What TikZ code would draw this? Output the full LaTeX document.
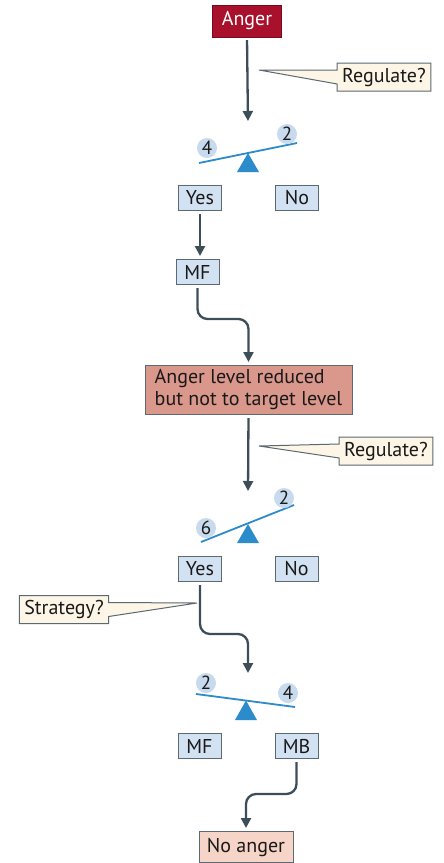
\documentclass[tikz,border=0pt]{standalone}
\usepackage{fontspec}
\setmainfont{PT Sans}
\usepackage{xcolor}
\usepackage{tikz}
\usetikzlibrary{arrows.meta,positioning,calc,shapes.callouts}

\definecolor{angerred}{HTML}{A8102C}
\definecolor{flowgrey}{HTML}{3E4E59}
\definecolor{optblue}{HTML}{D3E2F3}
\definecolor{callcream}{HTML}{FDF5E6}
\definecolor{beamblue}{HTML}{2B8BCB}
\definecolor{weightblue}{HTML}{C8DAEE}
\definecolor{reducedred}{HTML}{DA978B}
\definecolor{noangerpink}{HTML}{F6D4C8}

\tikzset{
  txt/.style={font=\fontsize{20}{22}\selectfont, text=black!90},
  option/.style={txt, draw=flowgrey!85, fill=optblue, line width=1, minimum width=43, minimum height=25, inner sep=2},
  question/.style={txt, rectangle callout, draw=flowgrey!85, fill=callcream, line width=1, minimum height=28, inner xsep=5, inner ysep=2, callout pointer width=14},
  flow/.style={draw=flowgrey, line width=2.3, shorten <=3, shorten >=3, -{Triangle[length=10,width=10]}},
  beam/.style={draw=beamblue, line width=1.8},
  weight/.style={circle, fill=weightblue, minimum size=20, inner sep=0, font=\fontsize{19}{20}\selectfont, text=black!90},
}

\begin{document}
\begin{tikzpicture}[x=1pt,y=-1pt]
\useasboundingbox (0,0) rectangle (444,863);

% Start
\node (anger) at (247,21) [txt, fill=angerred, draw=angerred!70!black, text=white, minimum width=69, minimum height=32, inner sep=2] {Anger};
\coordinate (top1) at (248,124);
\draw[flow] (anger.south) -- (top1);
\coordinate (tip1) at (259,70);
\node (reg1) at (384,77) [question, callout absolute pointer={(tip1)}] {Regulate?};

% First balance
\draw[beam] (199,163) -- (297,143);
\fill[beamblue] (237,172) -- (259,172) -- (248,153) -- cycle;
\node (w1a) at (207,148) [weight] {4};
\node (w1b) at (287,134) [weight] {2};
\node (yes1) at (200,198) [option] {Yes};
\node (no1) at (297,198) [option] {No};
\node (mf1) at (197.5,272) [option] {MF};
\draw[flow] (yes1.south) -- (yes1.south |- mf1.north);

% Partial reduction
\node (reduced) at (248.5,390) [txt, fill=reducedred, draw=flowgrey!85, line width=1, align=left, minimum width=207, minimum height=49, inner xsep=6, inner ysep=2] {Anger level reduced\\but not to target level};
\draw[flow, rounded corners=10] (mf1.south) -- ++(0,34) -| (reduced.north);
\coordinate (top2) at (248,494);
\draw[flow] (reduced.south) -- (top2);
\coordinate (tip2) at (259,446);
\node (reg2) at (386,451) [question, callout absolute pointer={(tip2)}] {Regulate?};

% Second balance
\draw[beam] (201,542) -- (294,505);
\fill[beamblue] (237,543) -- (259,543) -- (248,524) -- cycle;
\node (w2a) at (206,528) [weight] {6};
\node (w2b) at (284,498) [weight] {2};
\node (yes2) at (200,569) [option] {Yes};
\node (no2) at (296.5,569) [option] {No};
\coordinate (tip3) at (197,603);
\node (strat) at (64,609.5) [question, callout absolute pointer={(tip3)}] {Strategy?};
\coordinate (top3) at (248,676);
\draw[flow, rounded corners=10] (yes2.south) -- ++(0,52) -| (top3);

% Third balance
\draw[beam] (196,694) -- (295,707);
\fill[beamblue] (235,720) -- (257,720) -- (246,700.5) -- cycle;
\node (w3a) at (206,683) [weight] {2};
\node (w3b) at (288,693) [weight] {4};
\node (mf2) at (199.5,746) [option] {MF};
\node (mb) at (296.5,746) [option] {MB};

% End
\node (noanger) at (246,847) [txt, fill=noangerpink, draw=flowgrey!85, line width=1, minimum width=94, minimum height=31, inner sep=2] {No anger};
\draw[flow, rounded corners=10] (mb.south) -- ++(0,35) -| (noanger.north);
\end{tikzpicture}
\end{document}
